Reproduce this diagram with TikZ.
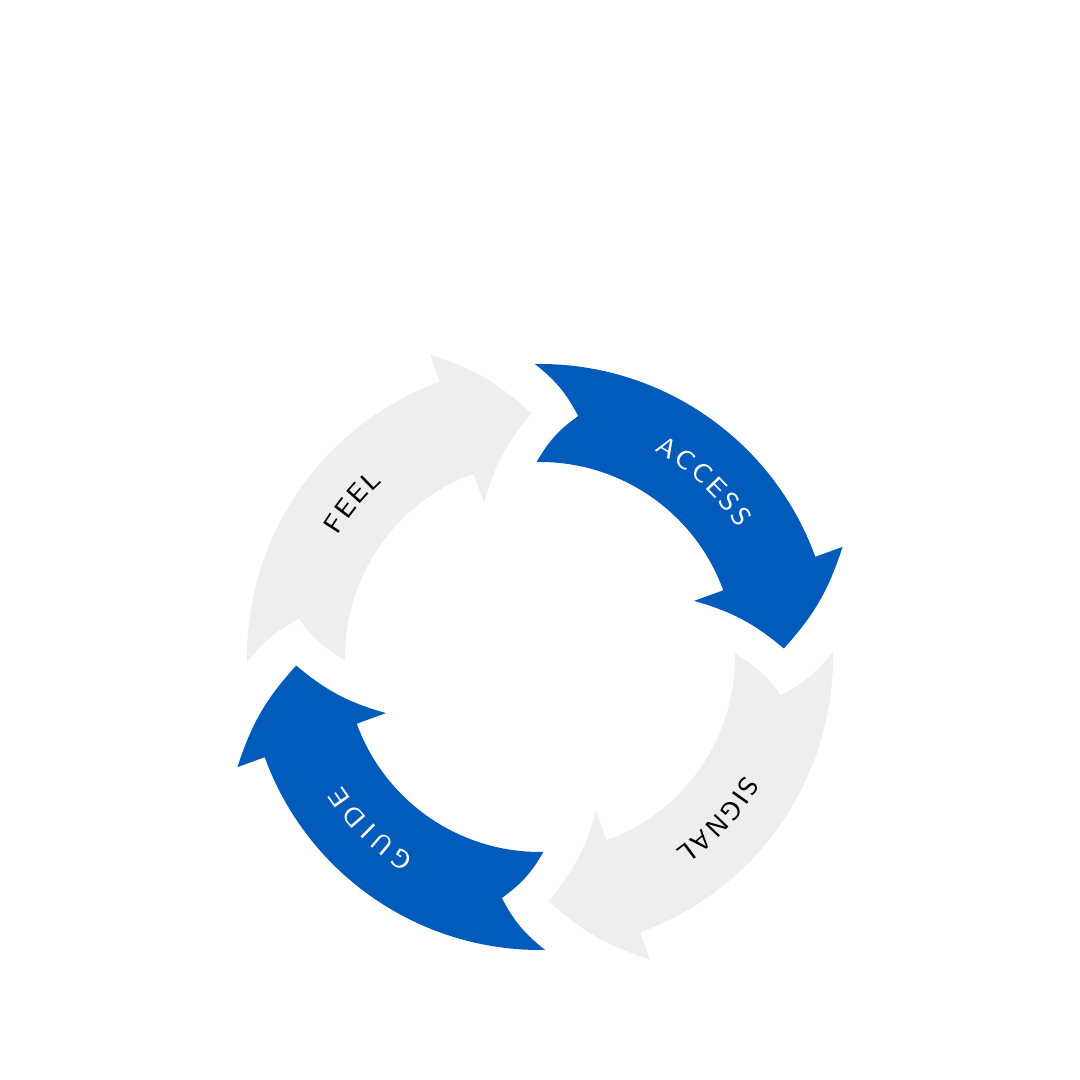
\documentclass[tikz,border=0pt]{standalone}
\usetikzlibrary{decorations.text}
\definecolor{cycleblue}{HTML}{005BBB}
\definecolor{cyclegray}{HTML}{EEEEEE}
\tikzset{
  arrowbody/.style={fill=#1, draw=none}
}
% one curved arrow of the cycle, turned by #1
\newcommand{\cyclearrow}[2]{%
  \fill[arrowbody=#2, rotate=#1] (91:2.93) arc[start angle=91, end angle=20, radius=2.93]
    -- (20:3.22) to[bend left=12] (2:2.44) to[bend right=12] (20:1.64) -- (20:1.95)
    arc[start angle=20, end angle=91, radius=1.95] to[bend left=12] (81:2.44)
    to[bend right=12] cycle;}
% label along the arc, clockwise
\newcommand{\cyclelabel}[4]{%
  \path[decorate, decoration={text along path, text align={fit to path},
    text color=#4, text={|\sffamily\fontsize{7.5}{9}\selectfont|#3}}]
    (#1:2.36) arc[start angle=#1, end angle=#2, radius=2.36];}

\begin{document}
\begin{tikzpicture}
\useasboundingbox (0,0) rectangle (10.8,10.8);

\begin{scope}[shift={(5.40,4.23)}]
% Arrows
\cyclearrow{0}{cycleblue}
\cyclearrow{90}{cyclegray}
\cyclearrow{180}{cycleblue}
\cyclearrow{270}{cyclegray}

% Labels
\cyclelabel{61}{33}{ACCESS}{white}
\cyclelabel{149}{132}{FEEL}{black}
\cyclelabel{238}{213}{GUIDE}{white}
\cyclelabel{-30}{-55}{SIGNAL}{black}
\end{scope}

\end{tikzpicture}
\end{document}
